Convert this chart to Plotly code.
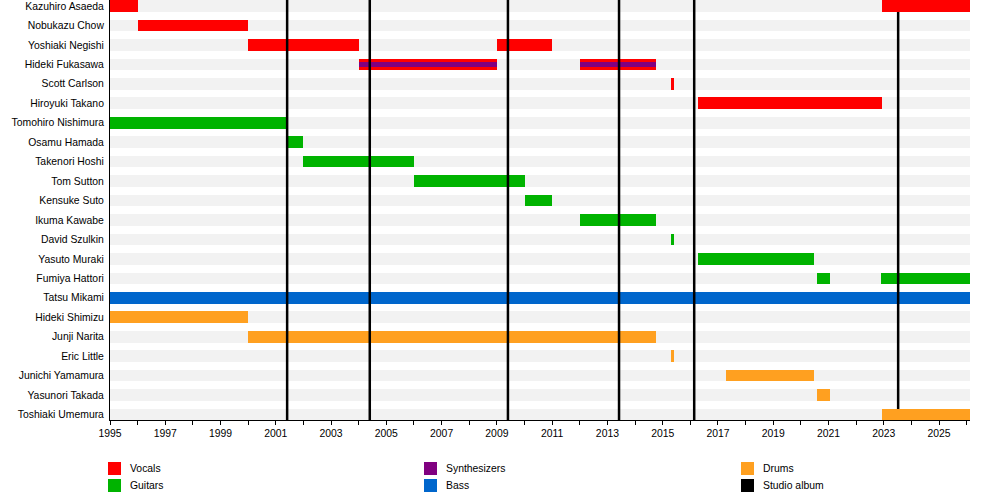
"""Band member timeline."""

import plotly.graph_objects as go


FONT = "Liberation Sans, Arial, sans-serif"
FONT_SIZE = 10.4
START, END = 1995.0, 2026.12

MEMBERS = [
    "Kazuhiro Asaeda", "Nobukazu Chow", "Yoshiaki Negishi", "Hideki Fukasawa",
    "Scott Carlson", "Hiroyuki Takano", "Tomohiro Nishimura", "Osamu Hamada",
    "Takenori Hoshi", "Tom Sutton", "Kensuke Suto", "Ikuma Kawabe",
    "David Szulkin", "Yasuto Muraki", "Fumiya Hattori", "Tatsu Mikami",
    "Hideki Shimizu", "Junji Narita", "Eric Little", "Junichi Yamamura",
    "Yasunori Takada", "Toshiaki Umemura",
]

# (member, start, end)
VOCALS = [
    ("Kazuhiro Asaeda", 1995.0, 1996.0),
    ("Kazuhiro Asaeda", 2022.92, END),
    ("Nobukazu Chow", 1996.0, 2000.0),
    ("Yoshiaki Negishi", 2000.0, 2004.0),
    ("Yoshiaki Negishi", 2009.0, 2011.0),
    ("Hideki Fukasawa", 2004.0, 2009.0),
    ("Hideki Fukasawa", 2012.0, 2014.75),
    ("Scott Carlson", 2015.33, 2015.40),
    ("Hiroyuki Takano", 2016.27, 2022.92),
]
SYNTHS = [
    ("Hideki Fukasawa", 2004.0, 2009.0),
    ("Hideki Fukasawa", 2012.0, 2014.75),
]
GUITARS = [
    ("Tomohiro Nishimura", 1995.0, 2001.43),
    ("Osamu Hamada", 2001.4, 2002.0),
    ("Takenori Hoshi", 2002.0, 2006.0),
    ("Tom Sutton", 2006.0, 2010.0),
    ("Kensuke Suto", 2010.0, 2011.0),
    ("Ikuma Kawabe", 2012.0, 2014.75),
    ("David Szulkin", 2015.33, 2015.40),
    ("Yasuto Muraki", 2016.27, 2020.47),
    ("Fumiya Hattori", 2020.57, 2021.05),
    ("Fumiya Hattori", 2022.9, END),
]
BASS = [
    ("Tatsu Mikami", 1995.0, END),
]
DRUMS = [
    ("Hideki Shimizu", 1995.0, 2000.0),
    ("Junji Narita", 2000.0, 2014.75),
    ("Eric Little", 2015.33, 2015.40),
    ("Junichi Yamamura", 2017.29, 2020.47),
    ("Yasunori Takada", 2020.57, 2021.07),
    ("Toshiaki Umemura", 2022.92, END),
]
ALBUMS = [2001.41, 2004.4, 2009.4, 2013.42, 2016.14, 2023.52]

# these current spans are painted over the album lines in the original
ON_TOP = ["Kazuhiro Asaeda", "Toshiaki Umemura"]

COLORS = {
    "Vocals": "#ff0000",
    "Guitars": "#00b300",
    "Synthesizers": "#800080",
    "Bass": "#0066cc",
    "Drums": "#ffa020",
    "Studio album": "#000000",
}

# legend laid out column by column, like the original
LEGEND_COLS = [["Vocals", "Guitars"], ["Synthesizers", "Bass"], ["Drums", "Studio album"]]

Y_TOP, Y_BOTTOM = -0.31, len(MEMBERS) - 1 + 0.283


def bar_trace(periods, color, width=0.6, axes="main"):
    extra = dict(xaxis="x2", yaxis="y2") if axes == "front" else {}
    return go.Bar(
        orientation="h",
        y=[MEMBERS.index(m) for m, _, _ in periods],
        base=[s for _, s, _ in periods],
        x=[e - s for _, s, e in periods],
        width=width,
        marker=dict(color=color, line=dict(width=0)),
        showlegend=False,
        hoverinfo="skip",
        **extra,
    )


def split(periods):
    front = [p for p in periods if p[0] in ON_TOP and p[2] == END]
    back = [p for p in periods if p not in front]
    return back, front


def main():
    fig = go.Figure()
    background = [(m, START, END) for m in MEMBERS]
    vocals, vocals_front = split(VOCALS)
    drums, drums_front = split(DRUMS)

    fig.add_trace(bar_trace(background, "#f2f2f2"))
    fig.add_trace(bar_trace(vocals, COLORS["Vocals"]))
    fig.add_trace(bar_trace(SYNTHS, COLORS["Synthesizers"], width=0.22))
    fig.add_trace(bar_trace(GUITARS, COLORS["Guitars"]))
    fig.add_trace(bar_trace(BASS, COLORS["Bass"]))
    fig.add_trace(bar_trace(drums, COLORS["Drums"]))

    # album release lines
    xs, ys = [], []
    for year in ALBUMS:
        xs += [year, year, None]
        ys += [Y_TOP, Y_BOTTOM, None]
    fig.add_trace(go.Scatter(
        x=xs, y=ys, mode="lines", line=dict(color="black", width=2.5),
        showlegend=False, hoverinfo="skip", cliponaxis=False,
    ))

    fig.add_trace(bar_trace(vocals_front, COLORS["Vocals"], axes="front"))
    fig.add_trace(bar_trace(drums_front, COLORS["Drums"], axes="front"))

    # hand-drawn legend below the plot (plot area is 860 x 420 px)
    def paper_x(px):
        return (px - 110) / 860

    def paper_y(py):
        return (420 - py) / 420

    col_left = [108, 424, 741]
    row_top = [462, 479]
    for col, names in enumerate(LEGEND_COLS):
        for row, name in enumerate(names):
            x0, y0 = col_left[col], row_top[row]
            fig.add_shape(
                type="rect", xref="paper", yref="paper",
                x0=paper_x(x0), x1=paper_x(x0 + 13),
                y0=paper_y(y0), y1=paper_y(y0 + 13),
                fillcolor=COLORS[name], line=dict(width=0),
            )
            fig.add_annotation(
                xref="paper", yref="paper", x=paper_x(x0 + 20), y=paper_y(y0 + 6.5),
                text=name, showarrow=False, xanchor="left", yanchor="middle",
                font=dict(family=FONT, size=FONT_SIZE, color="#000"),
            )

    fig.update_layout(
        width=1000, height=500,
        margin=dict(l=110, r=30, t=0, b=80),
        plot_bgcolor="white", paper_bgcolor="white",
        barmode="overlay", bargap=0,
        font=dict(family=FONT, size=FONT_SIZE, color="#000"),
        showlegend=False,
        xaxis2=dict(overlaying="x", range=[START, END], visible=False),
        yaxis2=dict(overlaying="y", range=[Y_BOTTOM, Y_TOP], visible=False),
    )
    fig.update_layout(xaxis=dict(
        range=[START, END],
        tickvals=list(range(1995, 2027, 2)),
        ticks="outside", ticklen=4, tickcolor="black",
        minor=dict(dtick=1, tick0=1995, ticks="outside", ticklen=4, tickcolor="black"),
        showline=True, linecolor="black", linewidth=1,
        showgrid=False, zeroline=False,
        tickfont=dict(family=FONT, size=FONT_SIZE),
    ))
    fig.update_layout(yaxis=dict(
        range=[Y_BOTTOM, Y_TOP],
        tickvals=list(range(len(MEMBERS))), ticktext=MEMBERS,
        showline=True, linecolor="black", linewidth=1,
        showgrid=False, zeroline=False, ticks="",
        ticklabelstandoff=3, ticklabeloverflow="allow",
        tickfont=dict(family=FONT, size=FONT_SIZE),
    ))

    fig.write_html(
        "out.html",
        config={"displayModeBar": False},
        post_script="document.body.style.margin='0';",
    )


if __name__ == "__main__":
    main()
